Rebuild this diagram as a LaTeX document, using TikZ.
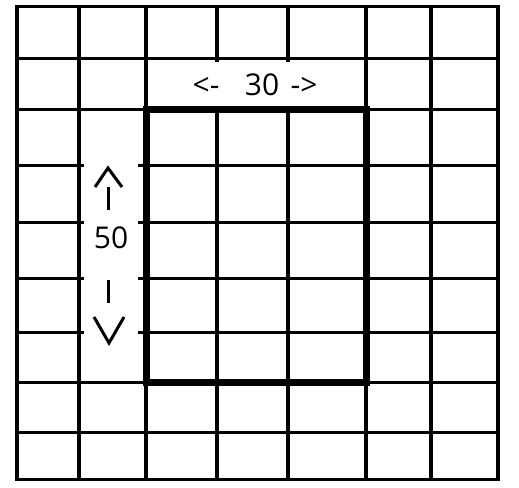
\documentclass[tikz,border=0pt]{standalone}
\usepackage{fontspec}
\setmainfont{Open Sans}
\usepackage{xcolor}
\usepackage{tikz}
\definecolor{ink}{HTML}{000000}
\definecolor{paper}{HTML}{FFFFFF}
\tikzset{
  vline/.style={line width=4pt, draw=ink},
  hline/.style={line width=3pt, draw=ink},
  frame/.style={line width=7pt, draw=ink, line join=miter},
  blank/.style={fill=paper, draw=none},
  stroke/.style={line width=3pt, draw=ink},
  lab/.style={text=ink, font=\fontsize{30}{30}\selectfont, inner sep=0pt, anchor=base}
}
\begin{document}
\begin{tikzpicture}[x=1pt,y=-1pt]
  \useasboundingbox (0,0) rectangle (519,487);
  \fill[paper] (0,0) rectangle (519,487);

  % grid
  \foreach \x in {17,79,146,217,288,366,431,498}
    \draw[vline] (\x,5) -- (\x,481);
  \foreach \y in {7,59,109,165,222,278,332,382,432,479}
    \draw[hline] (15,\y) -- (500,\y);

  % white patches behind the labels
  \fill[blank] (150,62) rectangle (362,106);
  \fill[blank] (84,112) rectangle (138,379);

  \draw[frame] (146,109) rectangle (366,382);

  % width
  \node[lab] (wl) at (206,95) {<-};
  \node[lab] (wn) at (262,95) {30};
  \node[lab] (wr) at (304,95) {->};

  % height
  \node[lab] (hn) at (111,248) {50};
  \coordinate (up) at (108,168);
  \coordinate (dn) at (109,343);
  \draw[stroke] (95,187) -- (up) -- (122,187);
  \draw[stroke] (108,187) -- (108,210);
  \draw[stroke] (108,280) -- (108,303);
  \draw[stroke] (94,317) -- (dn) -- (124,317);
\end{tikzpicture}
\end{document}
